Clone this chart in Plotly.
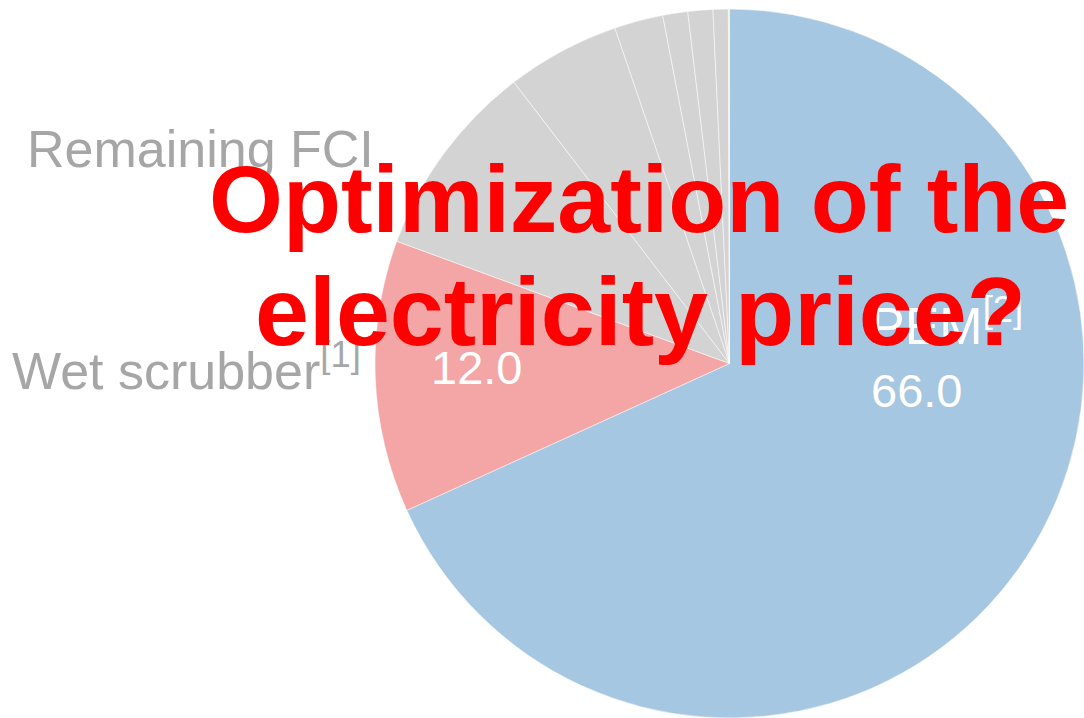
import plotly.graph_objects as go

W, H = 1084, 718

# Data
labels = ["PEM", "Wet scrubber", "FCI 1", "FCI 2", "FCI 3", "FCI 4", "FCI 5", "FCI 6", "FCI 7"]
values = [66.0, 12.0, 8.7, 5.0, 2.15, 1.1, 1.1, 0.67, 0.05]
colors = ["#a6c7e1", "#f4a5a6", "#d3d3d3", "#d3d3d3", "#d3d3d3", "#d3d3d3", "#d3d3d3", "#d3d3d3", "#e2e6b8"]

title_lines = ["Optimization of the", "electricity price?"]


def px_x(x):
    return x / W


def px_y(y):
    return 1 - y / H


fig = go.Figure(go.Pie(
    labels=labels,
    values=values,
    sort=False,
    direction="clockwise",
    rotation=0,
    marker=dict(colors=colors, line=dict(color="white", width=0.5)),
    textinfo="none",
    hoverinfo="label+value",
    showlegend=False,
    domain=dict(x=[px_x(375), 1.0], y=[0.0, px_y(9)]),
))

font_family = "Arial, Liberation Sans, sans-serif"
anns = []
# outside labels (gray)
anns.append(dict(text="Remaining FCI", x=px_x(25), y=px_y(180), xanchor="left", yanchor="bottom",
                 font=dict(size=52, color="#a6a6a6", family=font_family)))
anns.append(dict(text="Wet scrubber<sup>[1]</sup>", x=px_x(10), y=px_y(402), xanchor="left", yanchor="bottom",
                 font=dict(size=52, color="#a6a6a6", family=font_family)))
# inside labels (white)
anns.append(dict(text=f"{values[1]:.1f}", x=px_x(476), y=px_y(396), xanchor="center", yanchor="bottom",
                 font=dict(size=47, color="white", family=font_family)))
anns.append(dict(text="PEM<sup>[2]</sup>", x=px_x(868), y=px_y(357), xanchor="left", yanchor="bottom",
                 font=dict(size=52, color="white", family=font_family)))
anns.append(dict(text=f"{values[0]:.1f}", x=px_x(869), y=px_y(419), xanchor="left", yanchor="bottom",
                 font=dict(size=47, color="white", family=font_family)))
# title (red, bold)
anns.append(dict(text=f"<b>{title_lines[0]}</b>", x=px_x(639), y=px_y(199), xanchor="center", yanchor="middle",
                 font=dict(size=95, color="#ff0000", family=font_family)))
anns.append(dict(text=f"<b>{title_lines[1]}</b>", x=px_x(640), y=px_y(311), xanchor="center", yanchor="middle",
                 font=dict(size=97, color="#ff0000", family=font_family)))

for a in anns:
    a.update(xref="paper", yref="paper", showarrow=False)

fig.update_layout(
    width=W, height=H,
    margin=dict(l=0, r=0, t=0, b=0),
    paper_bgcolor="white",
    plot_bgcolor="white",
    annotations=anns,
)

fig.write_html("out.html")
